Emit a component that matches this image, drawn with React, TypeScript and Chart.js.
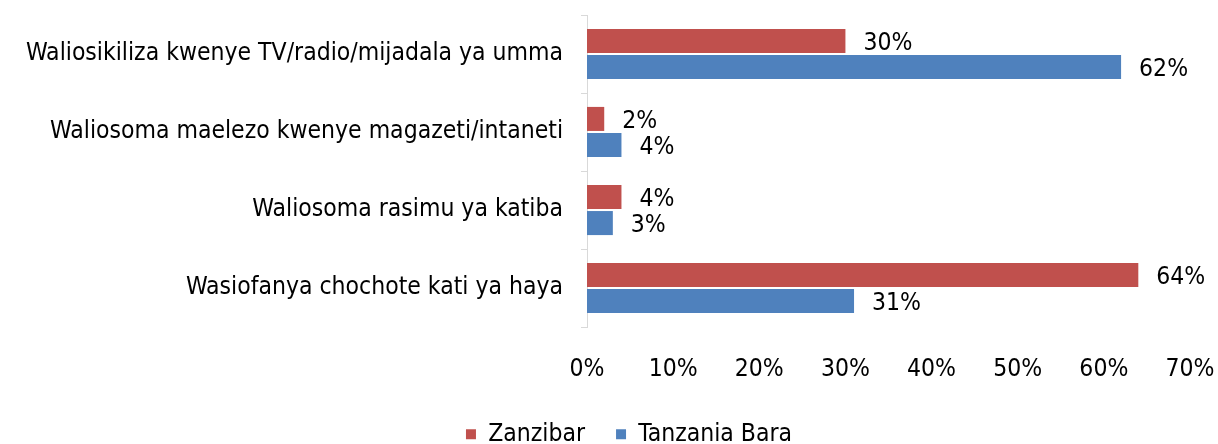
import React, { useEffect, useRef } from "react";
import { Chart, registerables } from "chart.js";

Chart.register(...registerables);

const categories = [
  "Waliosikiliza kwenye TV/radio/mijadala ya umma",
  "Waliosoma maelezo kwenye magazeti/intaneti",
  "Waliosoma rasimu ya katiba",
  "Wasiofanya chochote kati ya haya",
];
const zanzibar = [30, 2, 4, 64];
const tanzaniaBara = [62, 4, 3, 31];
const seriesNames = ["Zanzibar", "Tanzania Bara"];
const xTicks = [0, 10, 20, 30, 40, 50, 60, 70];

const RED = "#C0504D";
const BLUE = "#4F81BD";
const FONT = "'Liberation Sans Narrow', 'DejaVu Sans Condensed'";
const FONT_SIZE = 24.5;
const WEIGHT = "normal";
const TEXT = "#000000";

const valueLabels = {
  id: "valueLabels",
  afterDatasetsDraw(chart: any) {
    const ctx = chart.ctx;
    ctx.save();
    ctx.font = `${WEIGHT} ${FONT_SIZE}px ${FONT}`;
    ctx.fillStyle = TEXT;
    ctx.textAlign = "left";
    ctx.textBaseline = "middle";
    chart.data.datasets.forEach((ds: any, di: number) => {
      const meta = chart.getDatasetMeta(di);
      meta.data.forEach((bar: any, i: number) => {
        ctx.fillText(`${ds.data[i]}%`, bar.x + 18, bar.y + 3);
      });
    });
    ctx.restore();
  },
};

const legendShift = {
  id: "legendShift",
  afterLayout(chart: any) {
    const lg = chart.legend;
    if (lg) {
      lg.left += 34;
      lg.right += 34;
    }
  },
};

export default function App() {
  const ref = useRef<HTMLCanvasElement>(null);
  useEffect(() => {
    const font = { family: FONT, size: FONT_SIZE, weight: WEIGHT };
    const chart = new Chart(ref.current!, {
      type: "bar",
      data: {
        labels: categories,
        datasets: [
          { label: seriesNames[0], data: zanzibar, backgroundColor: RED, categoryPercentage: 0.67, barPercentage: 0.92 },
          { label: seriesNames[1], data: tanzaniaBara, backgroundColor: BLUE, categoryPercentage: 0.67, barPercentage: 0.92 },
        ],
      },
      options: {
        indexAxis: "y",
        animation: false,
        responsive: false,
        maintainAspectRatio: false,
        layout: { padding: { left: 0, right: 28, top: 15, bottom: 0 } },
        plugins: {
          legend: {
            position: "bottom",
            maxHeight: 53,
            labels: {
              boxWidth: 10,
              boxHeight: 10,
              padding: 31,
              color: TEXT,
              font,
            },
          },
          tooltip: { enabled: false },
        },
        scales: {
          x: {
            min: 0,
            max: 70,
            afterBuildTicks: (s: any) => {
              s.ticks = xTicks.map((v) => ({ value: v }));
            },
            afterFit: (s: any) => {
              s.height = 64;
              s.paddingLeft = 0;
              s.paddingRight = 0;
            },
            grid: { display: false, drawTicks: false },
            border: { display: false },
            ticks: {
              padding: 28,
              color: TEXT,
              font,
              callback: (v: any) => `${v}%`,
            },
          },
          y: {
            afterFit: (s: any) => {
              s.width = 587;
              s.paddingTop = 0;
              s.paddingBottom = 0;
            },
            grid: { display: true, drawOnChartArea: false, drawTicks: true, tickLength: 6, color: "#d9d9d9" },
            border: { display: true, color: "#d9d9d9" },
            ticks: {
              padding: 18,
              color: TEXT,
              font,
            },
          },
        },
      },
      plugins: [valueLabels, legendShift],
    });
    return () => chart.destroy();
  }, []);
  return (
    <div style={{ position: "absolute", left: 0, top: 0, width: 1218, height: 444, background: "#fff" }}>
      <canvas ref={ref} width={1218} height={444} />
    </div>
  );
}
